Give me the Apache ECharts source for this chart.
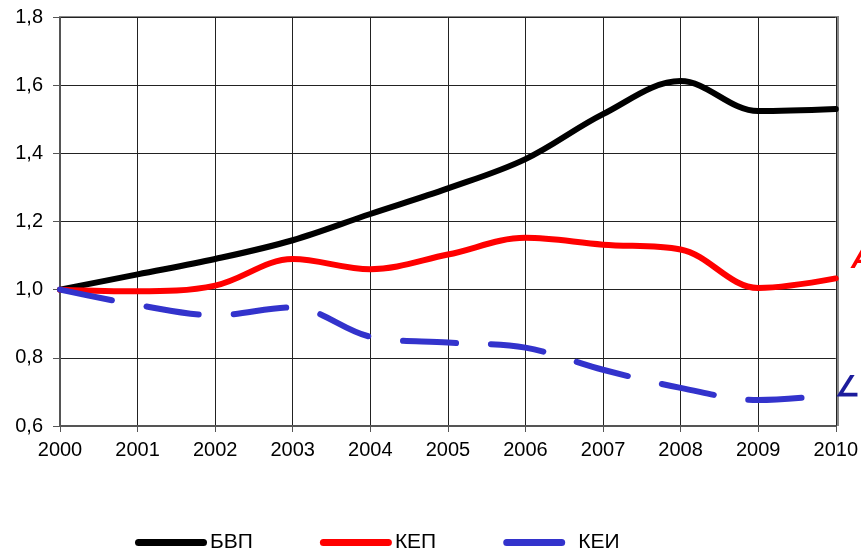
<!DOCTYPE html>
<html>
<head>
<meta charset="utf-8">
<script src="https://cdn.jsdelivr.net/npm/echarts@6/dist/echarts.min.js"></script>
<style>html,body{margin:0;padding:0;background:#fff;}#c{width:861px;height:553px;}</style>
</head>
<body>
<div id="c"></div>
<script>
var years = ['2000','2001','2002','2003','2004','2005','2006','2007','2008','2009','2010'];
var bvp = [1.00, 1.045, 1.09, 1.145, 1.222, 1.297, 1.383, 1.515, 1.612, 1.524, 1.530];
var kep = [1.00, 0.995, 1.012, 1.09, 1.06, 1.103, 1.152, 1.132, 1.118, 1.005, 1.033];
var kei = [1.00, 0.955, 0.925, 0.948, 0.862, 0.845, 0.83, 0.765, 0.712, 0.676, 0.692];
var yTicks = ['0,6','0,8','1,0','1,2','1,4','1,6','1,8'];

var chart = echarts.init(document.getElementById('c'));
var font = 'Liberation Sans, Arial, sans-serif';
var iconFull = 'path://M3.5,0H68.5A3.5,3.5,0,0,1,68.5,7H3.5A3.5,3.5,0,0,1,3.5,0Z';
var iconShort = 'path://M3.5,0H58.5A3.5,3.5,0,0,1,58.5,7H3.5A3.5,3.5,0,0,1,3.5,0ZM72,0L72,7L72,0Z';
chart.setOption({
  animation: false,
  grid: {left: 60, right: 23, top: 17, bottom: 127, containLabel: false},
  xAxis: {
    type: 'category', data: years, boundaryGap: false,
    axisLine: {lineStyle: {color: '#555', width: 2}},
    axisTick: {show: true, length: 6, lineStyle: {color: '#555'}},
    axisLabel: {color: '#000', fontSize: 20, fontFamily: font, margin: 14},
    splitLine: {show: true, lineStyle: {color: '#222', width: 1}}
  },
  yAxis: {
    type: 'value', min: 0.6, max: 1.8, interval: 0.2,
    axisLine: {show: true, lineStyle: {color: '#555', width: 2}},
    axisTick: {show: true, length: 7, lineStyle: {color: '#555'}},
    axisLabel: {color: '#000', fontSize: 20, fontFamily: font, margin: 17,
      formatter: function (v) { var i = Math.round((v - 0.6) / 0.2); return yTicks[i]; }},
    splitLine: {show: true, lineStyle: {color: '#222', width: 1}}
  },
  legend: {
    top: 532, left: 135, padding: 0, itemGap: 67, itemWidth: 72, itemHeight: 7,
    textStyle: {color: '#000', fontSize: 21, fontFamily: font, padding: [0, 0, 0, -2]},
    data: [
      {name: 'БВП', icon: iconFull},
      {name: 'КЕП', icon: iconFull},
      {name: 'КЕИ', icon: iconShort}
    ]
  },
  graphic: [
    {type: 'rect', shape: {x: 60, y: 16, width: 778, height: 1}, style: {fill: '#888'}, z: 1},
    {type: 'rect', shape: {x: 837, y: 16, width: 2, height: 410}, style: {fill: '#888'}, z: 1},
    {type: 'text', left: 851, top: 245, style: {text: 'A', fill: '#ff0000', font: 'italic bold 30px Liberation Sans'}, z: 10},
    {type: 'text', left: 835, top: 374, style: {text: '∠', fill: '#1c1c9c', font: 'bold 28px Liberation Sans'}, z: 10}
  ],
  series: [
    {name: 'БВП', type: 'line', data: bvp, smooth: 0.35, symbol: 'none',
      lineStyle: {color: '#000', width: 6, cap: 'round'}, itemStyle: {color: '#000'}, z: 3},
    {name: 'КЕП', type: 'line', data: kep, smooth: 0.35, symbol: 'none',
      lineStyle: {color: '#ff0000', width: 6, cap: 'round'}, itemStyle: {color: '#ff0000'}, z: 4},
    {name: 'КЕИ', type: 'line', data: kei, smooth: 0.35, symbol: 'none',
      lineStyle: {color: '#3333cc', width: 6, type: [53, 35], dashOffset: 0, cap: 'round'}, itemStyle: {color: '#3333cc'}, z: 5}
  ]
});
</script>
</body>
</html>
